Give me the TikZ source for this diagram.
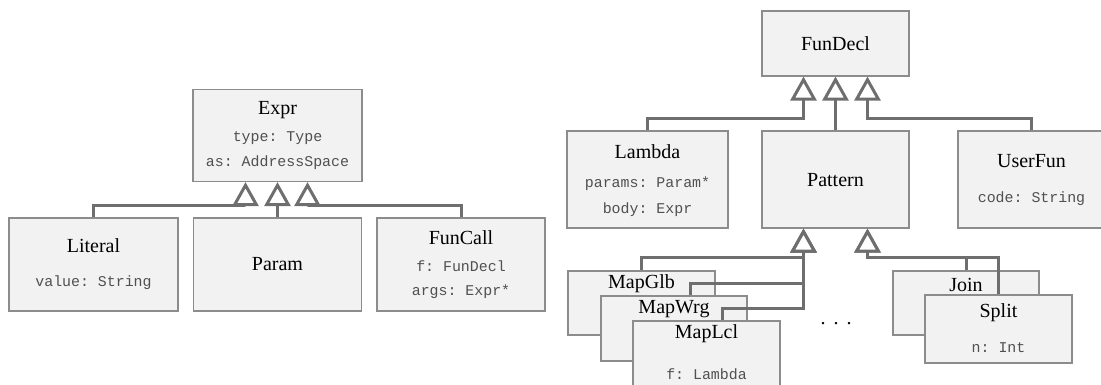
\documentclass[tikz,border=0pt]{standalone}
\usepackage{fontspec}
\setmainfont{Liberation Serif}
\setmonofont{Liberation Mono}
\usetikzlibrary{calc,arrows.meta}
\definecolor{boxfill}{HTML}{F2F2F2}
\definecolor{boxline}{HTML}{8C8C8C}
\definecolor{inhline}{HTML}{6E6E6E}
\definecolor{fldtext}{HTML}{505050}
\tikzset{
	cls/.style={draw=boxline, fill=boxfill, line width=1.2pt, inner sep=0pt},
	ttl/.style={font=\fontsize{20}{24}\selectfont, text height=13pt, text depth=0pt, inner sep=0pt},
	fld/.style={font=\ttfamily\fontsize{14.9}{17}\selectfont, text=fldtext, text height=9.5pt, text depth=0pt, inner sep=0pt},
	inh/.style={draw=inhline, line width=3pt, -{Triangle[open, fill=white, length=24pt, width=26pt]}}
}

\begin{document}
\begin{tikzpicture}[x=1pt, y=-1pt]
			%%%%% FRAME %%%%%
			\useasboundingbox (0,0) rectangle (1101,385);
			\clip (0,0) rectangle (1101,385);
			
			%%%%% EXPR TREE %%%%%
			\node[cls, minimum width=169, minimum height=92] (expr) at (277.5,135.5) {};
			\node[ttl] (exprT) at (277.5,108) {Expr};
			\node[fld] (exprA) at (277.5,137) {type: Type};
			\node[fld] (exprB) at (277.5,162) {as: AddressSpace};
			
			\node[cls, minimum width=169, minimum height=93] (lit) at (93.5,264.5) {};
			\node[ttl] (litT) at (93.5,246) {Literal};
			\node[fld] (litA) at (93.5,282) {value: String};
			
			\node[cls, minimum width=168, minimum height=93] (param) at (277.5,264.5) {};
			\node[ttl] (paramT) at (277.5,264) {Param};
			
			\node[cls, minimum width=168, minimum height=93] (funcall) at (461,264.5) {};
			\node[ttl] (funcallT) at (461,238) {FunCall};
			\node[fld] (funcallA) at (461,267) {f: FunDecl};
			\node[fld] (funcallB) at (461,291) {args: Expr*};
			
			\draw[inh] (lit.north) |- ($(expr.south)+(-32,23)$) -- ($(expr.south)+(-32,0)$);
			\draw[inh] (param.north) -- (expr.south);
			\draw[inh] (funcall.north) |- ($(expr.south)+(30,23)$) -- ($(expr.south)+(30,0)$);
			
			%%%%% FUNDECL TREE %%%%%
			\node[cls, minimum width=147, minimum height=65] (fundecl) at (835.5,43.5) {};
			\node[ttl] (fundeclT) at (835.5,44) {FunDecl};
			
			\node[cls, minimum width=161, minimum height=97] (lambda) at (647.5,179.5) {};
			\node[ttl] (lambdaT) at (647.5,152) {Lambda};
			\node[fld] (lambdaA) at (647.5,183) {params: Param*};
			\node[fld] (lambdaB) at (647.5,209) {body: Expr};
			
			\node[cls, minimum width=147, minimum height=97] (pattern) at (835.5,179.5) {};
			\node[ttl] (patternT) at (835.5,180) {Pattern};
			
			\node[cls, minimum width=147, minimum height=97] (userfun) at (1031.5,179.5) {};
			\node[ttl] (userfunT) at (1031.5,161) {UserFun};
			\node[fld] (userfunA) at (1031.5,198) {code: String};
			
			\draw[inh] (lambda.north) |- ($(fundecl.south)+(-32,42)$) -- ($(fundecl.south)+(-32,0)$);
			\draw[inh] (pattern.north) -- (fundecl.south);
			\draw[inh] (userfun.north) |- ($(fundecl.south)+(32,42)$) -- ($(fundecl.south)+(32,0)$);
			
			%%%%% PATTERNS %%%%%
			\node[cls, minimum width=147, minimum height=64] (mapglb) at (641.5,303) {};
			\node[ttl] (mapglbT) at (641.5,282) {MapGlb};
			\node[cls, minimum width=146, minimum height=65] (mapwrg) at (674,328.5) {};
			\node[ttl] (mapwrgT) at (674,307) {MapWrg};
			\node[cls, minimum width=147, minimum height=65] (maplcl) at (706.5,353.5) {};
			\node[ttl] (maplclT) at (706.5,332) {MapLcl};
			\node[fld] (maplclA) at (706.5,375) {f: Lambda};
			
			\node[cls, minimum width=146, minimum height=64] (join) at (966,303) {};
			\node[ttl] (joinT) at (966,285) {Join};
			\node[cls, minimum width=147, minimum height=68] (split) at (998.5,329) {};
			\node[ttl] (splitT) at (998.5,311) {Split};
			\node[fld] (splitA) at (998.5,348) {n: Int};
			
			\node[font=\fontsize{20}{24}\selectfont, inner sep=0pt] (dots) at (836,324) {.\hspace{8pt}.\hspace{8pt}.};
			
			\draw[inh] (mapglb.north) |- ($(pattern.south)+(-32,29)$) -- ($(pattern.south)+(-32,0)$);
			\draw[inh] ($(mapwrg.north)+(16,0)$) |- ($(pattern.south)+(-32,55)$) -- ($(pattern.south)+(-32,0)$);
			\draw[inh] ($(maplcl.north)+(16,0)$) |- ($(pattern.south)+(-32,80)$) -- ($(pattern.south)+(-32,0)$);
			\draw[inh] (join.north) |- ($(pattern.south)+(32,29)$) -- ($(pattern.south)+(32,0)$);
			\draw[inh] (split.north) |- ($(pattern.south)+(32,29)$) -- ($(pattern.south)+(32,0)$);
			
			%%%%% END %%%%%
\end{tikzpicture}
\end{document}
